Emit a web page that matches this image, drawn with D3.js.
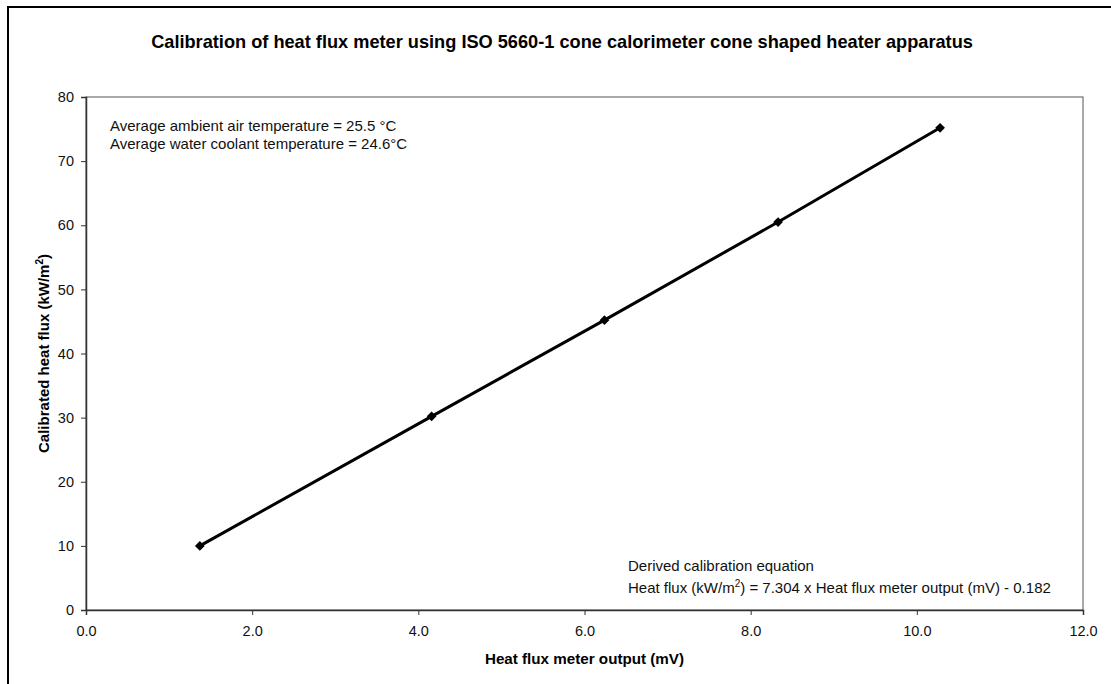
<!DOCTYPE html>
<html>
<head>
<meta charset="utf-8">
<script src="https://cdn.jsdelivr.net/npm/d3@7"></script>
<style>
  body { margin: 0; background: #fff; }
  svg { display: block; font-family: "Liberation Sans", Arial, sans-serif; }
</style>
</head>
<body>
<div id="chart"></div>
<script>
// calibration readings
var meterOutput = [1.37, 4.16, 6.24, 8.33, 10.28]
var heatFlux = [10.0, 30.2, 45.2, 60.5, 75.2]
var xTicks = [0, 2, 4, 6, 8, 10, 12]
var yTicks = [0, 10, 20, 30, 40, 50, 60, 70, 80]

var W = 1111, H = 684
var m = { left: 86, top: 97, right: 1083, bottom: 610 }

var svg = d3.select("#chart").append("svg")
  .attr("width", W)
  .attr("height", H)

// outer frame (runs off the bottom/right)
svg.append("rect")
  .attr("x", 8).attr("y", 7)
  .attr("width", W + 20).attr("height", H + 20)
  .attr("fill", "#fff")
  .attr("stroke", "#000")
  .attr("stroke-width", 2)

var x = d3.scaleLinear().domain([0, 12]).range([m.left, m.right])
var y = d3.scaleLinear().domain([0, 80]).range([m.bottom, m.top])

// plot area border
svg.append("rect")
  .attr("x", m.left).attr("y", m.top)
  .attr("width", m.right - m.left).attr("height", m.bottom - m.top)
  .attr("fill", "none")
  .attr("stroke", "#555")
  .attr("stroke-width", 1)

var xAxis = svg.append("g")
  .attr("transform", `translate(0,${m.bottom})`)
  .call(d3.axisBottom(x).tickValues(xTicks).tickFormat(d3.format(".1f")).tickSizeOuter(0).tickSize(5))

var yAxis = svg.append("g")
  .attr("transform", `translate(${m.left},0)`)
  .call(d3.axisLeft(y).tickValues(yTicks).tickSizeOuter(0).tickSize(5))

svg.selectAll(".domain").attr("stroke", "#333").attr("stroke-width", 1.5)
svg.selectAll(".tick line").attr("stroke", "#333")
svg.selectAll(".tick text")
  .attr("font-family", "Liberation Sans, Arial, sans-serif")
  .attr("font-size", 14.5)
  .attr("fill", "#111")
xAxis.selectAll(".tick text").attr("dy", "1.25em")
yAxis.selectAll(".tick text").attr("x", -12)

// data line + markers
var pts = meterOutput.map((v, i) => [v, heatFlux[i]])

svg.append("path")
  .datum(pts)
  .attr("fill", "none")
  .attr("stroke", "#000")
  .attr("stroke-width", 3)
  .attr("d", d3.line().x(d => x(d[0])).y(d => y(d[1])))

svg.append("g").selectAll("path")
  .data(pts)
  .join("path")
  .attr("transform", d => `translate(${x(d[0])},${y(d[1])})`)
  .attr("d", d3.symbol().type(d3.symbolDiamond2).size(60))
  .attr("fill", "#000")

// titles
svg.append("text")
  .attr("x", 562).attr("y", 48)
  .attr("text-anchor", "middle")
  .attr("font-weight", "bold")
  .attr("font-size", 18.2)
  .text("Calibration of heat flux meter using ISO 5660-1 cone calorimeter cone shaped heater apparatus")

svg.append("text")
  .attr("x", (m.left + m.right) / 2).attr("y", 664)
  .attr("text-anchor", "middle")
  .attr("font-weight", "bold")
  .attr("font-size", 15.2)
  .text("Heat flux meter output (mV)")

var yl = svg.append("text")
  .attr("transform", `translate(49,${(m.top + m.bottom) / 2}) rotate(-90)`)
  .attr("text-anchor", "middle")
  .attr("font-weight", "bold")
  .attr("font-size", 15)
yl.append("tspan").text("Calibrated heat flux (kW/m")
yl.append("tspan").attr("dy", -6).attr("font-size", 10).text("2")
yl.append("tspan").attr("dy", 6).text(")")

// annotations
var notes = ["Average ambient air temperature = 25.5 °C", "Average water coolant temperature = 24.6°C"]
svg.append("g").selectAll("text")
  .data(notes)
  .join("text")
  .attr("x", 110)
  .attr("y", (d, i) => 131 + i * 18)
  .attr("font-size", 15)
  .attr("fill", "#111")
  .text(d => d)

svg.append("text")
  .attr("x", 628).attr("y", 571)
  .attr("font-size", 15)
  .attr("fill", "#111")
  .text("Derived calibration equation")

var eq = svg.append("text")
  .attr("x", 628).attr("y", 593)
  .attr("font-size", 15)
  .attr("fill", "#111")
eq.append("tspan").text("Heat flux (kW/m")
eq.append("tspan").attr("dy", -6).attr("font-size", 10).text("2")
eq.append("tspan").attr("dy", 6).text(") = 7.304 x Heat flux meter output (mV) - 0.182")
</script>
</body>
</html>
